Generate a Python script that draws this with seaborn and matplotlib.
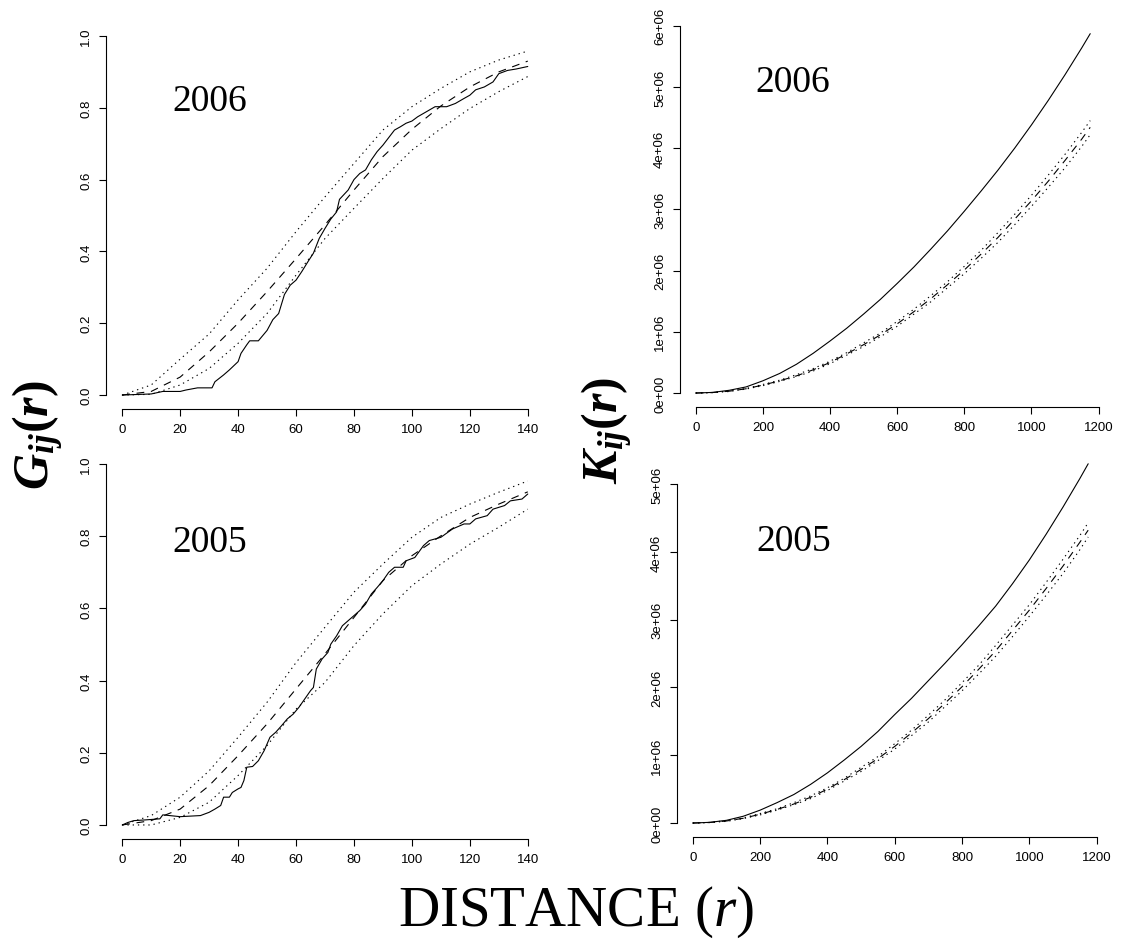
import numpy as np
import pandas as pd
import matplotlib
matplotlib.use("Agg")
import matplotlib.pyplot as plt
import seaborn as sns

# ---------------- data ----------------
# G-function, 2006
g06_obs_r = [0, 10, 14, 20, 22, 26, 31, 32, 35, 37, 40, 41, 43, 44, 47, 50, 52, 54, 56, 58,
             60, 62, 64, 66, 68, 70, 72, 74, 75, 78, 80, 82, 84, 86, 88, 90, 92, 94, 96, 98,
             100, 102, 105, 108, 112, 115, 118, 120, 122, 125, 128, 130, 133, 136, 140]
g06_obs = [0.0, 0.003, 0.01, 0.01, 0.014, 0.02, 0.02, 0.037, 0.056, 0.07, 0.093, 0.116, 0.14,
           0.151, 0.151, 0.18, 0.21, 0.227, 0.28, 0.306, 0.32, 0.344, 0.37, 0.395, 0.436, 0.464,
           0.49, 0.51, 0.545, 0.571, 0.6, 0.617, 0.627, 0.655, 0.678, 0.696, 0.717, 0.738, 0.747,
           0.757, 0.763, 0.775, 0.789, 0.803, 0.803, 0.812, 0.826, 0.835, 0.85, 0.858, 0.872,
           0.895, 0.904, 0.908, 0.915]
g_env_r = [0, 10, 20, 30, 40, 50, 60, 70, 80, 90, 100, 110, 120, 130, 140]
g06_theo = [0.0, 0.01, 0.05, 0.12, 0.2, 0.288, 0.38, 0.474, 0.571, 0.664, 0.74, 0.805, 0.858, 0.9, 0.93]
g06_hi = [0.0, 0.028, 0.1, 0.17, 0.265, 0.353, 0.455, 0.552, 0.645, 0.738, 0.803, 0.854, 0.9, 0.933, 0.958]
g06_lo = [0.0, 0.002, 0.028, 0.074, 0.144, 0.227, 0.334, 0.436, 0.52, 0.603, 0.682, 0.742, 0.798, 0.845, 0.887]

# G-function, 2005
g05_obs_r = [0, 2, 4, 8, 13, 14, 20, 27, 30, 32, 34, 35, 37, 38, 40, 41, 42, 43, 45, 47, 49, 51,
             53, 55, 57, 59, 61, 63, 65, 66, 67, 69, 71, 72, 74, 76, 78, 80, 82, 84, 86, 88, 90,
             92, 94, 97, 98, 101, 104, 106, 110, 114, 118, 120, 122, 126, 128, 132, 134, 138, 140]
g05_obs = [0.0, 0.007, 0.012, 0.014, 0.017, 0.028, 0.023, 0.026, 0.035, 0.044, 0.054, 0.077,
           0.077, 0.09, 0.1, 0.104, 0.123, 0.16, 0.162, 0.178, 0.206, 0.243, 0.257, 0.275, 0.294,
           0.307, 0.326, 0.349, 0.372, 0.381, 0.432, 0.46, 0.478, 0.501, 0.524, 0.552, 0.566,
           0.58, 0.594, 0.612, 0.64, 0.658, 0.677, 0.7, 0.714, 0.714, 0.732, 0.741, 0.774, 0.788,
           0.797, 0.82, 0.834, 0.834, 0.848, 0.857, 0.875, 0.885, 0.898, 0.903, 0.917]
g05_theo = [0.0, 0.012, 0.044, 0.109, 0.192, 0.28, 0.377, 0.474, 0.575, 0.677, 0.746, 0.801, 0.852, 0.889, 0.923]
g05_hi = [0.0, 0.026, 0.077, 0.15, 0.243, 0.34, 0.45, 0.548, 0.645, 0.723, 0.797, 0.852, 0.889, 0.922, 0.953]
g05_lo = [0.0, 0.0, 0.021, 0.063, 0.137, 0.22, 0.321, 0.395, 0.497, 0.585, 0.663, 0.723, 0.778, 0.825, 0.875]

# K-function (values in millions) against distance
k_scale = 1e6
k_r = [0, 50, 100, 150, 200, 250, 300, 350, 400, 450, 500, 550, 600, 650, 700, 750, 800,
       850, 900, 950, 1000, 1050, 1100, 1150, 1175]
k06_obs = [0.0, 0.01, 0.045, 0.1, 0.2, 0.32, 0.47, 0.65, 0.85, 1.06, 1.29, 1.53, 1.79, 2.06,
           2.35, 2.65, 2.97, 3.3, 3.64, 4.0, 4.38, 4.78, 5.2, 5.64, 5.87]
k06_theo = [0.0, 0.008, 0.03, 0.07, 0.13, 0.2, 0.28, 0.38, 0.5, 0.64, 0.79, 0.95, 1.13, 1.33,
            1.54, 1.77, 2.01, 2.27, 2.54, 2.84, 3.14, 3.46, 3.8, 4.15, 4.34]
k06_hi = [0.0, 0.009, 0.035, 0.075, 0.14, 0.21, 0.3, 0.4, 0.52, 0.66, 0.82, 0.98, 1.17, 1.37,
          1.59, 1.82, 2.07, 2.33, 2.62, 2.92, 3.23, 3.56, 3.9, 4.26, 4.45]
k06_lo = [0.0, 0.007, 0.025, 0.065, 0.12, 0.19, 0.27, 0.36, 0.48, 0.62, 0.76, 0.92, 1.09, 1.29,
          1.49, 1.72, 1.95, 2.2, 2.46, 2.75, 3.05, 3.36, 3.68, 4.03, 4.22]

k05_obs = [0.0, 0.01, 0.04, 0.1, 0.19, 0.3, 0.42, 0.57, 0.74, 0.93, 1.13, 1.35, 1.6, 1.84,
           2.1, 2.36, 2.63, 2.91, 3.2, 3.53, 3.88, 4.26, 4.66, 5.08, 5.3]
k05_theo = [0.0, 0.008, 0.03, 0.07, 0.13, 0.2, 0.28, 0.38, 0.5, 0.64, 0.79, 0.95, 1.13, 1.33,
            1.54, 1.77, 2.01, 2.27, 2.54, 2.84, 3.14, 3.46, 3.79, 4.14, 4.32]
k05_hi = [0.0, 0.009, 0.035, 0.075, 0.14, 0.21, 0.3, 0.4, 0.52, 0.66, 0.82, 0.98, 1.17, 1.37,
          1.59, 1.82, 2.07, 2.33, 2.62, 2.92, 3.22, 3.55, 3.89, 4.24, 4.43]
k05_lo = [0.0, 0.007, 0.025, 0.065, 0.12, 0.19, 0.27, 0.36, 0.48, 0.62, 0.76, 0.92, 1.09, 1.29,
          1.49, 1.72, 1.95, 2.2, 2.46, 2.75, 3.05, 3.36, 3.68, 4.03, 4.22]

# ticks / labels
g_xticks = [0, 20, 40, 60, 80, 100, 120, 140]
g_yticks = [0.0, 0.2, 0.4, 0.6, 0.8, 1.0]
g_ylabels = ["0.0", "0.2", "0.4", "0.6", "0.8", "1.0"]
k_xticks = [0, 200, 400, 600, 800, 1000, 1200]
k06_yticks = [0, 1, 2, 3, 4, 5, 6]
k06_ylabels = ["0e+00", "1e+06", "2e+06", "3e+06", "4e+06", "5e+06", "6e+06"]
k05_yticks = [0, 1, 2, 3, 4, 5]
k05_ylabels = ["0e+00", "1e+06", "2e+06", "3e+06", "4e+06", "5e+06"]
years = ["2006", "2005"]

# ---------------- styling ----------------
sns.set_theme(style="ticks")
plt.rcParams.update({
    "font.family": ["Liberation Sans", "DejaVu Sans"],
    "mathtext.fontset": "custom",
    "mathtext.rm": "Liberation Serif",
    "mathtext.it": "Liberation Serif:italic",
    "mathtext.bf": "Liberation Serif:bold",
    "mathtext.bfit": "Liberation Serif:italic:bold",
    "axes.edgecolor": "black",
    "axes.linewidth": 0.8,
    "xtick.color": "black",
    "ytick.color": "black",
    "xtick.labelcolor": "black",
    "ytick.labelcolor": "black",
    "text.color": "black",
    "axes.labelcolor": "black",
})

W, H = 1137, 945
fig = plt.figure(figsize=(W / 100, H / 100), dpi=100)


def add_ax(left, top, right, bottom):
    return fig.add_axes([left / W, 1 - bottom / H, (right - left) / W, (bottom - top) / H])


ax_g06 = add_ax(106, 22.6, 544, 410.4)
ax_g05 = add_ax(106, 450.6, 544, 840.4)
ax_k06 = add_ax(680, 20.3, 1106, 408.4)
ax_k05 = add_ax(677, 450.4, 1104, 838.4)

LW = 0.8
DASH = (7, 6)
DOT = (1.2, 3.5)


def draw_set(ax, r_obs, obs, r_env, theo, hi, lo, scale=1.0):
    sns.lineplot(x=r_obs, y=[v * scale for v in obs], ax=ax, color="black", lw=LW,
                 estimator=None, sort=False)
    sns.lineplot(x=r_env, y=[v * scale for v in theo], ax=ax, color="black", lw=LW,
                 estimator=None, sort=False)
    ax.lines[-1].set_dashes(DASH)
    sns.lineplot(x=r_env, y=[v * scale for v in hi], ax=ax, color="black", lw=LW,
                 estimator=None, sort=False)
    ax.lines[-1].set_dashes(DOT)
    sns.lineplot(x=r_env, y=[v * scale for v in lo], ax=ax, color="black", lw=LW,
                 estimator=None, sort=False)
    ax.lines[-1].set_dashes(DOT)


def style(ax, xr, yr, xticks, yticks, ylabels, yscale=1.0):
    xspan = xr[1] - xr[0]
    yspan = yr[1] - yr[0]
    ax.set_xlim(xr[0] - 0.04 * xspan, xr[1] + 0.04 * xspan)
    ax.set_ylim((yr[0] - 0.04 * yspan) * yscale, (yr[1] + 0.04 * yspan) * yscale)
    for s in ["top", "right"]:
        ax.spines[s].set_visible(False)
    ax.spines["bottom"].set_bounds(xticks[0], xticks[-1])
    ax.spines["left"].set_bounds(yticks[0] * yscale, yticks[-1] * yscale)
    ax.set_xticks(xticks)
    ax.set_xticklabels([str(t) for t in xticks])
    ax.set_yticks([t * yscale for t in yticks])
    ax.set_yticklabels(ylabels, rotation=90, va="center")
    ax.tick_params(axis="both", length=5, width=0.8, pad=5, labelsize=9.5)
    ax.set_xlabel("")
    ax.set_ylabel("")
    ax.set_facecolor("white")


draw_set(ax_g06, g06_obs_r, g06_obs, g_env_r, g06_theo, g06_hi, g06_lo)
draw_set(ax_g05, g05_obs_r, g05_obs, g_env_r, g05_theo, g05_hi, g05_lo)
draw_set(ax_k06, k_r, k06_obs, k_r, k06_theo, k06_hi, k06_lo, scale=k_scale)
draw_set(ax_k05, k_r, k05_obs, k_r, k05_theo, k05_hi, k05_lo, scale=k_scale)

style(ax_g06, (0, 140), (0, 1), g_xticks, g_yticks, g_ylabels)
style(ax_g05, (0, 140), (0, 1), g_xticks, g_yticks, g_ylabels)
style(ax_k06, (0, 1175), (0, max(k06_obs)), k_xticks, k06_yticks, k06_ylabels, yscale=k_scale)
style(ax_k05, (0, 1175), (0, max(k05_obs)), k_xticks, k05_yticks, k05_ylabels, yscale=k_scale)

yr_kw = dict(family="Liberation Serif", size=27, ha="center", va="center", color="black")
ax_g06.text(30.3, 0.82, years[0], **yr_kw)
ax_g05.text(30.3, 0.785, years[1], **yr_kw)
ax_k06.text(289, 5.08 * k_scale, years[0], **yr_kw)
ax_k05.text(299, 4.17 * k_scale, years[1], **yr_kw)

fig.text(576 / W, 1 - 912 / H, r"DISTANCE ($\mathit{r}$)", family="Liberation Serif",
         size=41, ha="center", va="center", color="black")
fig.text(38 / W, 1 - 435 / H, r"$\mathbfit{G}_{\mathbfit{ij}}\mathbf{(}\mathbfit{r}\mathbf{)}$",
         size=36, rotation=90, ha="center", va="center", color="black")
fig.text(607 / W, 1 - 430 / H, r"$\mathbfit{K}_{\mathbfit{ij}}\mathbf{(}\mathbfit{r}\mathbf{)}$",
         size=36, rotation=90, ha="center", va="center", color="black")

fig.savefig("out.png", dpi=100, facecolor="white")
